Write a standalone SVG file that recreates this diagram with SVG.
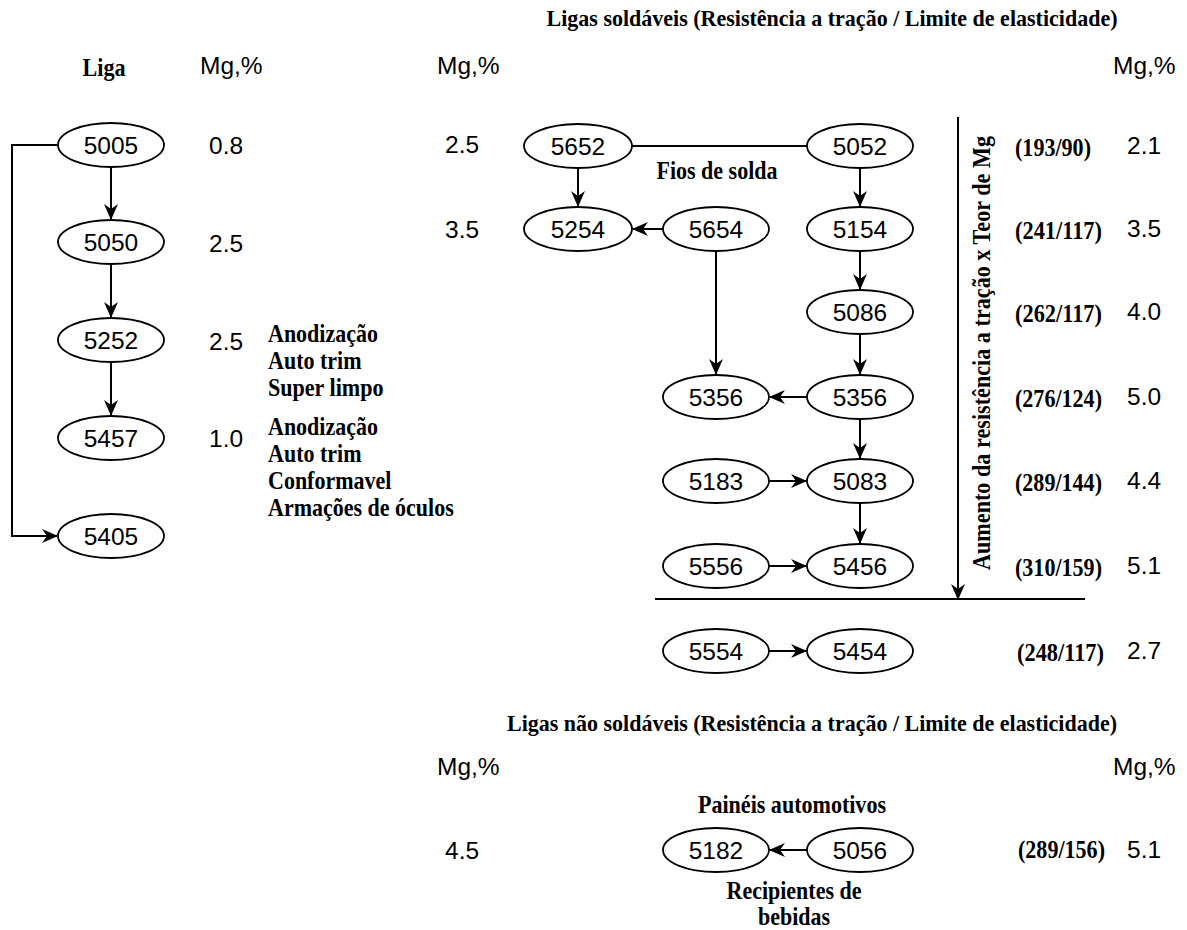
<svg xmlns="http://www.w3.org/2000/svg" width="1187" height="930" viewBox="0 0 1187 930">
  <defs>
    <marker id="arrow" viewBox="0 0 16 14" markerWidth="16" markerHeight="14" refX="15" refY="7" orient="auto" markerUnits="userSpaceOnUse">
      <path d="M0,0 L16,7 L0,14 L5,7 z" fill="#000"/>
    </marker>
    <style>
      .node ellipse { fill: #fff; stroke: #000; stroke-width: 1.8; }
      .node text { font-family: "Liberation Sans", Arial, sans-serif; font-size: 24.5px; text-anchor: middle; fill: #000; }
      .val { font-family: "Liberation Sans", Arial, sans-serif; font-size: 24.5px; fill: #000; }
      .lbl { font-family: "Liberation Serif", "Times New Roman", serif; font-size: 25px; font-weight: bold; fill: #000; }
      .ttl { font-family: "Liberation Serif", "Times New Roman", serif; font-size: 23px; font-weight: bold; fill: #000; text-anchor: middle; }
      .mid { text-anchor: middle; }
      .edge { fill: none; stroke: #000; stroke-width: 2; }
      .arr { marker-end: url(#arrow); }
    </style>
  </defs>
  <rect width="1187" height="930" fill="#fff"/>

  <!-- headings -->
  <g id="headings">
    <text class="ttl" x="832" y="26" textLength="571" lengthAdjust="spacingAndGlyphs">Ligas soldáveis (Resistência a tração / Limite de elasticidade)</text>
    <text class="ttl" x="812" y="731" textLength="610" lengthAdjust="spacingAndGlyphs">Ligas não soldáveis (Resistência a tração / Limite de elasticidade)</text>
    <text class="lbl mid" x="104" y="76" textLength="43" lengthAdjust="spacingAndGlyphs">Liga</text>
    <text class="val" x="200" y="74">Mg,%</text>
    <text class="val" x="437" y="74">Mg,%</text>
    <text class="val" x="1113" y="74">Mg,%</text>
    <text class="val" x="437" y="775">Mg,%</text>
    <text class="val" x="1113" y="775">Mg,%</text>
  </g>

  <!-- connectors -->
  <g id="connectors">
    <!-- left family -->
    <path class="edge arr" d="M58,145 H12 V536 H57"/>
    <line class="edge arr" x1="111" y1="167" x2="111" y2="219"/>
    <line class="edge arr" x1="111" y1="264" x2="111" y2="317"/>
    <line class="edge arr" x1="111" y1="362" x2="111" y2="415"/>
    <!-- weldable alloys -->
    <line class="edge" x1="632" y1="146" x2="807" y2="146"/>
    <line class="edge arr" x1="578" y1="168" x2="578" y2="206"/>
    <line class="edge arr" x1="663" y1="229" x2="633" y2="229"/>
    <line class="edge arr" x1="716" y1="251" x2="716" y2="374"/>
    <line class="edge arr" x1="860" y1="168" x2="860" y2="206"/>
    <line class="edge arr" x1="860" y1="251" x2="860" y2="289"/>
    <line class="edge arr" x1="860" y1="334" x2="860" y2="374"/>
    <line class="edge arr" x1="807" y1="397" x2="770" y2="397"/>
    <line class="edge arr" x1="860" y1="419" x2="860" y2="458"/>
    <line class="edge arr" x1="769" y1="481" x2="806" y2="481"/>
    <line class="edge arr" x1="860" y1="503" x2="860" y2="543"/>
    <line class="edge arr" x1="769" y1="566" x2="806" y2="566"/>
    <line class="edge arr" x1="769" y1="651" x2="806" y2="651"/>
    <!-- strength axis and separator -->
    <line class="edge arr" x1="958" y1="117" x2="958" y2="599"/>
    <line class="edge" x1="655" y1="599" x2="1085" y2="599"/>
    <!-- non-weldable -->
    <line class="edge arr" x1="807" y1="850" x2="770" y2="850"/>
  </g>

  <!-- left family nodes -->
  <g id="n5005" class="node"><ellipse cx="111" cy="145" rx="53" ry="22"/><text x="111" y="153.5">5005</text></g>
  <g id="n5050" class="node"><ellipse cx="111" cy="242" rx="53" ry="22"/><text x="111" y="250.5">5050</text></g>
  <g id="n5252" class="node"><ellipse cx="111" cy="340" rx="53" ry="22"/><text x="111" y="348.5">5252</text></g>
  <g id="n5457" class="node"><ellipse cx="111" cy="438" rx="53" ry="22"/><text x="111" y="446.5">5457</text></g>
  <g id="n5405" class="node"><ellipse cx="111" cy="536" rx="53" ry="22"/><text x="111" y="544.5">5405</text></g>

  <!-- weldable nodes -->
  <g id="n5652" class="node"><ellipse cx="578" cy="146" rx="54" ry="22"/><text x="578" y="154.5">5652</text></g>
  <g id="n5052" class="node"><ellipse cx="860" cy="146" rx="53" ry="22"/><text x="860" y="154.5">5052</text></g>
  <g id="n5254" class="node"><ellipse cx="578" cy="229" rx="54" ry="22"/><text x="578" y="237.5">5254</text></g>
  <g id="n5654" class="node"><ellipse cx="716" cy="229" rx="53" ry="22"/><text x="716" y="237.5">5654</text></g>
  <g id="n5154" class="node"><ellipse cx="860" cy="229" rx="53" ry="22"/><text x="860" y="237.5">5154</text></g>
  <g id="n5086" class="node"><ellipse cx="860" cy="312" rx="53" ry="22"/><text x="860" y="320.5">5086</text></g>
  <g id="n5356a" class="node"><ellipse cx="716" cy="397" rx="53" ry="22"/><text x="716" y="405.5">5356</text></g>
  <g id="n5356b" class="node"><ellipse cx="860" cy="397" rx="53" ry="22"/><text x="860" y="405.5">5356</text></g>
  <g id="n5183" class="node"><ellipse cx="716" cy="481" rx="53" ry="22"/><text x="716" y="489.5">5183</text></g>
  <g id="n5083" class="node"><ellipse cx="860" cy="481" rx="53" ry="22"/><text x="860" y="489.5">5083</text></g>
  <g id="n5556" class="node"><ellipse cx="716" cy="566" rx="53" ry="22"/><text x="716" y="574.5">5556</text></g>
  <g id="n5456" class="node"><ellipse cx="860" cy="566" rx="53" ry="22"/><text x="860" y="574.5">5456</text></g>
  <g id="n5554" class="node"><ellipse cx="716" cy="651" rx="53" ry="22"/><text x="716" y="659.5">5554</text></g>
  <g id="n5454" class="node"><ellipse cx="860" cy="651" rx="53" ry="22"/><text x="860" y="659.5">5454</text></g>

  <!-- non-weldable nodes -->
  <g id="n5182" class="node"><ellipse cx="716" cy="850" rx="53" ry="22"/><text x="716" y="858.5">5182</text></g>
  <g id="n5056" class="node"><ellipse cx="860" cy="850" rx="53" ry="22"/><text x="860" y="858.5">5056</text></g>

  <!-- left family values and uses -->
  <g id="left-values">
    <text class="val" x="209" y="154">0.8</text>
    <text class="val" x="209" y="252">2.5</text>
    <text class="val" x="209" y="350">2.5</text>
    <text class="val" x="209" y="447">1.0</text>
    <text class="lbl" x="268" y="342" textLength="110" lengthAdjust="spacingAndGlyphs">Anodização</text>
    <text class="lbl" x="268" y="369" textLength="93.5" lengthAdjust="spacingAndGlyphs">Auto trim</text>
    <text class="lbl" x="268" y="396" textLength="115.5" lengthAdjust="spacingAndGlyphs">Super limpo</text>
    <text class="lbl" x="268" y="435" textLength="110" lengthAdjust="spacingAndGlyphs">Anodização</text>
    <text class="lbl" x="268" y="462" textLength="93.5" lengthAdjust="spacingAndGlyphs">Auto trim</text>
    <text class="lbl" x="268" y="489" textLength="123.4" lengthAdjust="spacingAndGlyphs">Conformavel</text>
    <text class="lbl" x="268" y="516" textLength="185.7" lengthAdjust="spacingAndGlyphs">Armações de óculos</text>
  </g>

  <!-- weldable values -->
  <g id="weldable-values">
    <text class="val" x="445" y="153">2.5</text>
    <text class="val" x="445" y="238">3.5</text>
    <text class="lbl mid" x="717" y="179" textLength="121" lengthAdjust="spacingAndGlyphs">Fios de solda</text>
    <text class="lbl mid" transform="translate(990,353) rotate(-90)" textLength="434" lengthAdjust="spacingAndGlyphs">Aumento da resistência a tração x Teor de Mg</text>
    <text class="lbl" x="1015" y="156" textLength="76" lengthAdjust="spacingAndGlyphs">(193/90)</text>
    <text class="lbl" x="1015" y="239" textLength="87" lengthAdjust="spacingAndGlyphs">(241/117)</text>
    <text class="lbl" x="1015" y="322" textLength="87" lengthAdjust="spacingAndGlyphs">(262/117)</text>
    <text class="lbl" x="1015" y="407" textLength="87" lengthAdjust="spacingAndGlyphs">(276/124)</text>
    <text class="lbl" x="1015" y="491" textLength="87" lengthAdjust="spacingAndGlyphs">(289/144)</text>
    <text class="lbl" x="1015" y="576" textLength="87" lengthAdjust="spacingAndGlyphs">(310/159)</text>
    <text class="lbl" x="1017" y="661" textLength="87" lengthAdjust="spacingAndGlyphs">(248/117)</text>
    <text class="val" x="1127" y="154">2.1</text>
    <text class="val" x="1127" y="237">3.5</text>
    <text class="val" x="1127" y="320">4.0</text>
    <text class="val" x="1127" y="405">5.0</text>
    <text class="val" x="1127" y="489">4.4</text>
    <text class="val" x="1127" y="574">5.1</text>
    <text class="val" x="1127" y="659">2.7</text>
  </g>

  <!-- non-weldable values -->
  <g id="nonweldable-values">
    <text class="val" x="445" y="859">4.5</text>
    <text class="lbl mid" x="792" y="813" textLength="188" lengthAdjust="spacingAndGlyphs">Painéis automotivos</text>
    <text class="lbl mid" x="794" y="899" textLength="135" lengthAdjust="spacingAndGlyphs">Recipientes de</text>
    <text class="lbl mid" x="794" y="925" textLength="72" lengthAdjust="spacingAndGlyphs">bebidas</text>
    <text class="lbl" x="1018" y="858" textLength="87" lengthAdjust="spacingAndGlyphs">(289/156)</text>
    <text class="val" x="1127" y="858">5.1</text>
  </g>
</svg>
